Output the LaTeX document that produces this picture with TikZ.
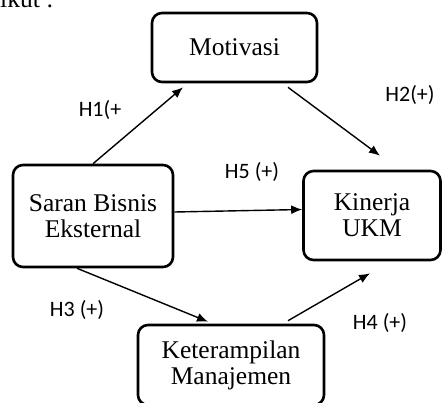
\documentclass[tikz,border=0pt]{standalone}
\usepackage{fontspec}
\setmainfont{Liberation Serif}
\newfontfamily\lblfont{Carlito}
\usetikzlibrary{arrows.meta}
\tikzset{
	varbox/.style={draw, line width=2.6pt, rounded corners=10pt, align=center,
		font=\fontsize{25.5}{26}\selectfont, inner sep=0pt},
	hyp/.style={font=\lblfont\fontsize{22}{24}\selectfont},
	link/.style={-{Latex[length=11pt,width=9pt]}, line width=1.4pt}
}
\begin{document}
\begin{tikzpicture}[x=1pt,y=-1pt]
	\useasboundingbox (0,0) rectangle (442,402);
	\clip (0,0) rectangle (442,402);
	% sisa teks halaman
	\node[anchor=base west, inner sep=0pt, font=\fontsize{25.5}{26}\selectfont] (teks) at (0,7) {ikut :};
	% variabel
	\node[varbox, minimum width=165pt, minimum height=69pt] (motivasi) at (234.5,47.5) {Motivasi};
	\node[varbox, minimum width=160pt, minimum height=102pt] (saran) at (93,216) {Saran Bisnis\\Eksternal};
	\node[varbox, minimum width=137pt, minimum height=89pt] (kinerja) at (372,215.5) {Kinerja\\UKM};
	\node[varbox, minimum width=186pt, minimum height=80pt] (keterampilan) at (231,365) {Keterampilan\\Manajemen};
	% hubungan
	\draw[link] (saran.north) -- ([xshift=-51.5pt,yshift=-4pt]motivasi.south);
	\draw[link] ([xshift=53.5pt,yshift=-4pt]motivasi.south) -- ([xshift=8pt,yshift=14pt]kinerja.north);
	\draw[link] ([yshift=4pt]saran.east) -- ([yshift=6pt]kinerja.west);
	\draw[link] ([xshift=-16pt]saran.south) -- ([xshift=-23pt,yshift=2pt]keterampilan.north);
	\draw[link] ([xshift=57pt,yshift=3pt]keterampilan.north) -- ([xshift=-2pt,yshift=-12pt]kinerja.south);
	% label hipotesis
	\node[hyp] (h1) at (100,110) {H1(+};
	\node[hyp] (h2) at (410,95) {H2(+)};
	\node[hyp] (h5) at (252,172) {H5 (+)};
	\node[hyp] (h3) at (77,310) {H3 (+)};
	\node[hyp] (h4) at (380,323) {H4 (+)};
\end{tikzpicture}
\end{document}
